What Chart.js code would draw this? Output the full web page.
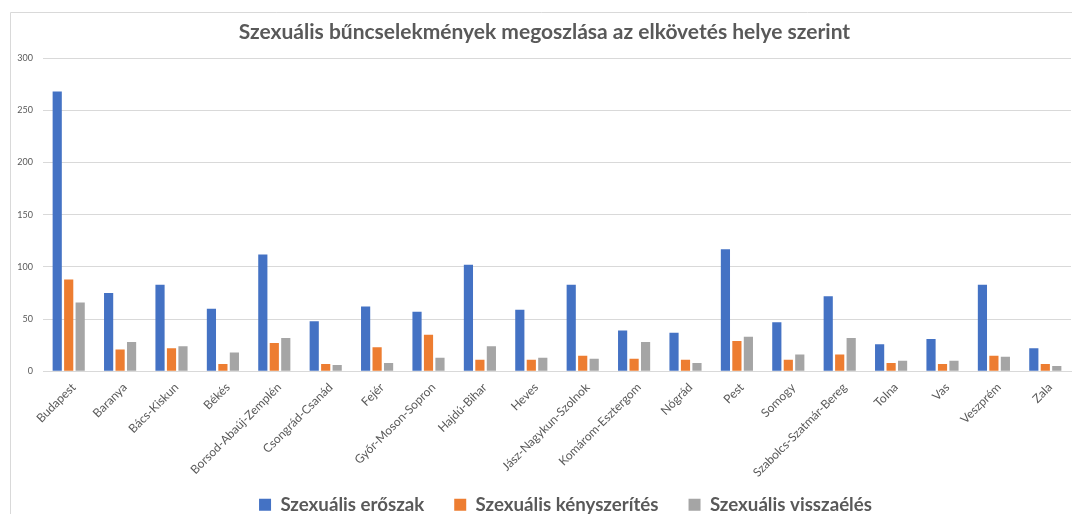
<!DOCTYPE html>
<html>
<head>
<meta charset="utf-8">
<script src="https://cdn.jsdelivr.net/npm/chart.js@4/dist/chart.umd.min.js"></script>
<style>
html,body{margin:0;padding:0;background:#fff;}
#wrap{width:1072px;height:514px;position:relative;}
</style>
</head>
<body>
<div id="wrap"><canvas id="c" width="1072" height="514"></canvas></div>
<script>
const chartTitle = 'Szexuális bűncselekmények megoszlása az elkövetés helye szerint';
const categories = ['Budapest','Baranya','Bács-Kiskun','Békés','Borsod-Abaúj-Zemplén','Csongrád-Csanád','Fejér','Győr-Moson-Sopron','Hajdú-Bihar','Heves','Jász-Nagykun-Szolnok','Komárom-Esztergom','Nógrád','Pest','Somogy','Szabolcs-Szatmár-Bereg','Tolna','Vas','Veszprém','Zala'];
const seriesNames = ['Szexuális erőszak','Szexuális kényszerítés','Szexuális visszaélés'];
const eroszak      = [268, 75, 83, 60, 112, 48, 62, 57, 102, 59, 83, 39, 37, 117, 47, 72, 26, 31, 83, 22];
const kenyszerites = [ 88, 21, 22,  7,  27,  7, 23, 35,  11, 11, 15, 12, 11,  29, 11, 16,  8,  7, 15,  7];
const visszaeles   = [ 66, 28, 24, 18,  32,  6,  8, 13,  24, 13, 12, 28,  8,  33, 16, 32, 10, 10, 14,  5];
const yTicks = [0, 50, 100, 150, 200, 250, 300];
const colors = ['#4472C4','#ED7D31','#A5A5A5'];

const FONT = 'Lato, "Open Sans", "DejaVu Sans", sans-serif';
const TEXT = '#595959';

const frame = {
  id: 'frame',
  beforeDraw(chart) {
    const ctx = chart.ctx;
    ctx.save();
    ctx.strokeStyle = '#d9d9d9';
    ctx.lineWidth = 1;
    ctx.beginPath();
    ctx.moveTo(10.5, chart.height + 2);
    ctx.lineTo(10.5, 12.5);
    ctx.lineTo(chart.width + 2, 12.5);
    ctx.stroke();
    ctx.restore();
  },
  afterLayout(chart) {
    const t = chart.titleBlock;
    if (t) { t.left += 9; t.right += 9; }
    const l = chart.legend;
    if (l) { l.left += 30; l.right += 30; l.top += 10; l.bottom += 10; }
    const x = chart.scales.x;
    if (x) { x.bottom = chart.height; }
  }
};

new Chart(document.getElementById('c'), {
  type: 'bar',
  data: {
    labels: categories,
    datasets: [
      { label: seriesNames[0], data: eroszak, backgroundColor: colors[0] },
      { label: seriesNames[1], data: kenyszerites, backgroundColor: colors[1] },
      { label: seriesNames[2], data: visszaeles, backgroundColor: colors[2] }
    ]
  },
  options: {
    responsive: false,
    animation: false,
    devicePixelRatio: 1,
    layout: { padding: { left: 0, right: 1, top: 0, bottom: 0 } },
    datasets: { bar: { categoryPercentage: 0.67, barPercentage: 0.8 } },
    plugins: {
      title: {
        display: true,
        text: chartTitle,
        color: TEXT,
        font: { family: FONT, size: 21, weight: 'bold', lineHeight: 1.2 },
        padding: { top: 20, bottom: 13 }
      },
      legend: {
        position: 'bottom',
        labels: {
          color: TEXT,
          boxWidth: 12,
          boxHeight: 12,
          padding: 30,
          font: { family: FONT, size: 18.7, weight: 'bold' }
        }
      },
      tooltip: { enabled: false }
    },
    scales: {
      x: {
        afterFit(scale) { scale.height = 84; },
        grid: { display: false, drawTicks: false },
        border: { display: true, color: '#d9d9d9' },
        ticks: {
          color: TEXT,
          font: { family: FONT, size: 12 },
          minRotation: 45,
          maxRotation: 45,
          autoSkip: false,
          padding: 9,
          labelOffset: 5
        }
      },
      y: {
        min: 0,
        max: 300,
        afterBuildTicks(scale) { scale.ticks = yTicks.map(v => ({ value: v })); },
        afterFit(scale) { scale.width = 43; },
        grid: { color: '#d9d9d9', drawTicks: false },
        border: { display: false },
        ticks: {
          color: TEXT,
          font: { family: FONT, size: 9 },
          padding: 10
        }
      }
    }
  },
  plugins: [frame]
});
</script>
</body>
</html>
